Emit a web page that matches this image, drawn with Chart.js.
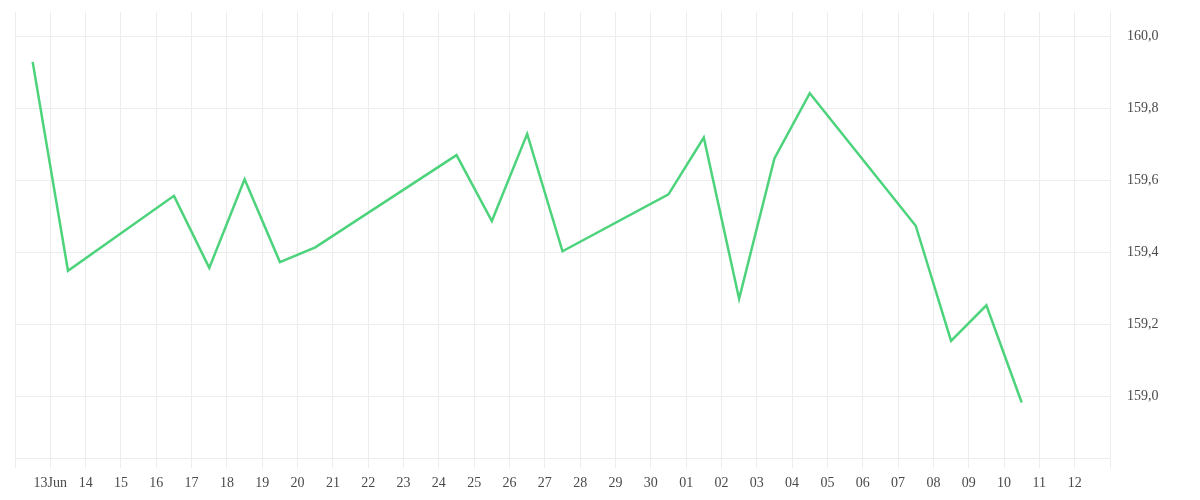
<!DOCTYPE html>
<html>
<head>
<meta charset="utf-8">
<script src="https://cdn.jsdelivr.net/npm/chart.js@4.4.1/dist/chart.umd.min.js"></script>
<style>
  html, body { margin: 0; padding: 0; background: #fff; }
  #wrap { width: 1200px; height: 500px; position: relative; }
</style>
</head>
<body>
<div id="wrap"><canvas id="priceChart"></canvas></div>
<script>
// trading days shown (weekends have no entry)
const dates = [
  "2025-06-12", "2025-06-13", "2025-06-16", "2025-06-17", "2025-06-18",
  "2025-06-19", "2025-06-20", "2025-06-24", "2025-06-25", "2025-06-26",
  "2025-06-27", "2025-06-30", "2025-07-01", "2025-07-02", "2025-07-03",
  "2025-07-04", "2025-07-07", "2025-07-08", "2025-07-09", "2025-07-10",
];
const prices = [
  159.929, 159.349, 159.557, 159.357, 159.603,
  159.373, 159.414, 159.670, 159.487, 159.729,
  159.403, 159.561, 159.719, 159.271, 159.661,
  159.842, 159.474, 159.154, 159.253, 158.983,
];
// one tick per day from 12 Jun to 13 Jul
const xTickLabels = [
  "", "13Jun", "14", "15", "16", "17", "18", "19", "20", "21", "22",
  "23", "24", "25", "26", "27", "28", "29", "30", "01", "02",
  "03", "04", "05", "06", "07", "08", "09", "10", "11", "12", "",
];
const yTicks = [159.0, 159.2, 159.4, 159.6, 159.8, 160.0];
const yMin = 158.829;
const yMax = 160.0675;

const startDay = Date.UTC(2025, 5, 12);
const dayIndex = (s) => {
  const [y, m, d] = s.split("-").map(Number);
  return (Date.UTC(y, m - 1, d) - startDay) / 86400000 + 0.5;
};

const points = dates.map((d, i) => ({ x: dayIndex(d), y: prices[i] }));

const gridColor = "#ededed";
const tickFont = { family: "'Liberation Serif', serif", size: 14 };

new Chart(document.getElementById("priceChart"), {
  type: "line",
  data: {
    datasets: [
      {
        data: points,
        borderColor: "#4cd37b",
        borderWidth: 2.5,
        pointRadius: 0,
        tension: 0,
        fill: false,
      },
    ],
  },
  options: {
    responsive: true,
    maintainAspectRatio: false,
    animation: false,
    layout: { padding: { left: 15, top: 12, right: 0, bottom: 0 } },
    plugins: {
      legend: { display: false },
      tooltip: { enabled: false },
    },
    scales: {
      x: {
        type: "linear",
        min: 0,
        max: xTickLabels.length - 1,
        afterBuildTicks: (axis) => {
          axis.ticks = xTickLabels.map((_, i) => ({ value: i }));
        },
        afterFit: (axis) => {
          axis.height = 42;
          axis.paddingLeft = 0;
          axis.paddingRight = 0;
        },
        grid: { color: gridColor, tickLength: 10, tickColor: gridColor },
        border: { color: gridColor },
        ticks: {
          autoSkip: false,
          maxRotation: 0,
          padding: 7,
          color: "#4a4a4a",
          font: tickFont,
          callback: (v) => xTickLabels[v] ?? "",
        },
      },
      y: {
        position: "right",
        min: yMin,
        max: yMax,
        afterBuildTicks: (axis) => {
          axis.ticks = yTicks.map((v) => ({ value: v }));
        },
        afterFit: (axis) => {
          axis.width = 90;
          axis.paddingTop = 0;
          axis.paddingBottom = 0;
        },
        grid: { color: gridColor, drawTicks: false },
        border: { color: gridColor },
        ticks: {
          padding: 17,
          color: "#4a4a4a",
          font: tickFont,
          callback: (v) => v.toFixed(1).replace(".", ","),
        },
      },
    },
  },
});
</script>
</body>
</html>
